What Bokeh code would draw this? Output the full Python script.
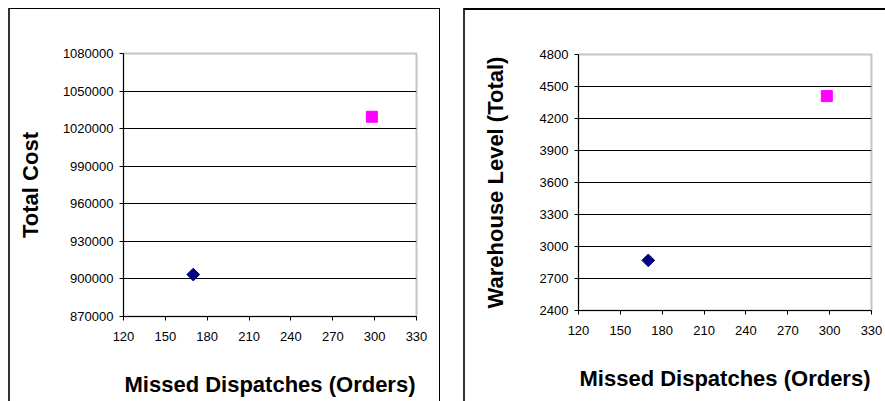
from bokeh.plotting import figure
from bokeh.layouts import row
from bokeh.models import Range1d, FixedTicker, BasicTickFormatter
from bokeh.embed import file_html
from bokeh.resources import INLINE

# ---- data ----
missed = [170, 298]                 # Missed Dispatches (Orders) per scenario
total_cost = [903500, 1029500]      # Total Cost per scenario
warehouse = [2870, 4410]            # Warehouse Level (Total) per scenario
marker_colors = ["#000080", "#FF00FF"]

x_ticks = [120, 150, 180, 210, 240, 270, 300, 330]
cost_ticks = [870000, 900000, 930000, 960000, 990000, 1020000, 1050000, 1080000]
wh_ticks = [2400, 2700, 3000, 3300, 3600, 3900, 4200, 4500, 4800]

FONT = "Liberation Sans"


def make_panel(yvals, yticks, ylabel, fw, fh, mb, label_standoff):
    p = figure(frame_width=fw, frame_height=fh, output_backend="svg", toolbar_location=None,
               x_range=Range1d(x_ticks[0], x_ticks[-1]),
               y_range=Range1d(yticks[0], yticks[-1]),
               min_border_left=mb[0], min_border_right=mb[1],
               min_border_top=mb[2], min_border_bottom=mb[3])
    p.background_fill_color = "white"
    p.border_fill_color = "white"
    p.outline_line_color = "#c4c4c4"
    p.outline_line_width = 2

    p.xgrid.visible = False
    p.ygrid.ticker = FixedTicker(ticks=yticks[1:-1])
    p.ygrid.grid_line_color = "black"
    p.ygrid.grid_line_width = 1

    for ax in (p.xaxis[0], p.yaxis[0]):
        ax.axis_line_color = "black"
        ax.major_tick_line_color = "black"
        ax.major_tick_out = 4
        ax.major_tick_in = 0
        ax.minor_tick_line_color = None
        ax.major_label_text_font = FONT
        ax.major_label_text_font_size = "13px"
        ax.major_label_text_color = "black"
        ax.axis_label_text_font = FONT
        ax.axis_label_text_font_style = "bold"
        ax.axis_label_text_font_size = "22px"
        ax.axis_label_text_color = "black"

    p.xaxis.ticker = FixedTicker(ticks=x_ticks)
    p.yaxis.ticker = FixedTicker(ticks=yticks)
    p.yaxis.formatter = BasicTickFormatter(use_scientific=False)
    p.xaxis.major_label_standoff = 11
    p.yaxis.major_label_standoff = 6
    p.xaxis.axis_label = "Missed Dispatches (Orders)"
    p.yaxis.axis_label = ylabel
    p.xaxis.axis_label_standoff = 28
    p.yaxis.axis_label_standoff = label_standoff

    # series 1: navy diamond, series 2: magenta square
    p.scatter(x=[missed[0]], y=[yvals[0]], marker="square", angle=0.7853981634,
              size=9, fill_color=marker_colors[0], line_color=marker_colors[0])
    p.scatter(x=[missed[1]], y=[yvals[1]], marker="square",
              size=11, fill_color=marker_colors[1], line_color=marker_colors[1])
    return p


p1 = make_panel(total_cost, cost_ticks, "Total Cost", 290, 262, (113, 26, 44, 86), 17)
p1.styles = {"border-left": "2px solid #333333", "border-top": "1px solid #000000",
             "border-right": "1px solid #000000"}
p1.margin = (8, 0, 0, 8)

p2 = make_panel(warehouse, wh_ticks, "Warehouse Level (Total)", 291, 254, (113, 16, 43, 94), 29)
p2.styles = {"border-left": "2px solid #333333", "border-top": "2px solid #000000"}
p2.margin = (8, 0, 0, 0)

layout = row(p1, p2, spacing=23)

open("out.html", "w").write(file_html(layout, INLINE))
